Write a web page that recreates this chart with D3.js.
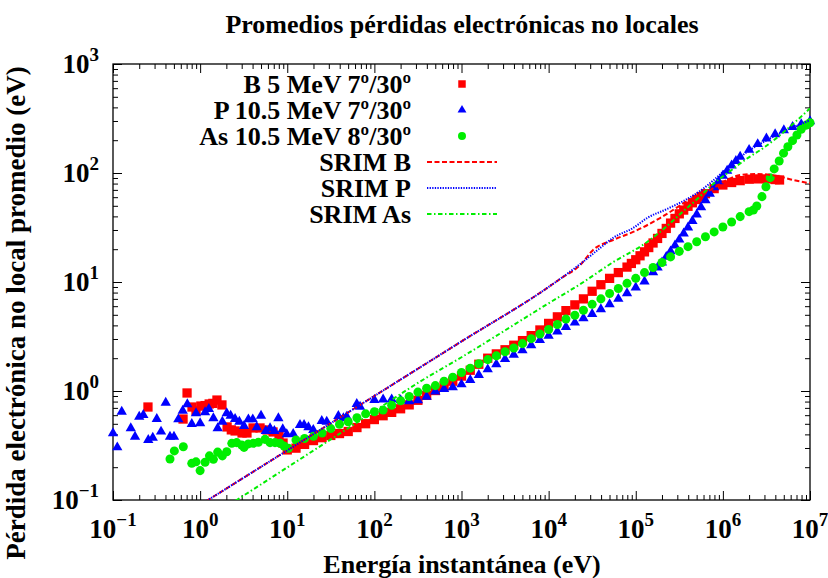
<!DOCTYPE html>
<html>
<head>
<meta charset="utf-8">
<script src="https://cdn.jsdelivr.net/npm/d3@7"></script>
<style>
  body { margin: 0; background: #fff; }
  text { font-family: "Liberation Serif", "Times New Roman", serif; font-weight: bold; fill: #000; }
</style>
</head>
<body>
<div id="chart"></div>
<script>
// Decades shown on each axis (labels are 10^n)
var xDecades = [-1, 0, 1, 2, 3, 4, 5, 6, 7]
var yDecades = [-1, 0, 1, 2, 3]

var seriesNames = ["B 5 MeV 7º/30º", "P 10.5 MeV 7º/30º", "As 10.5 MeV 8º/30º", "SRIM B", "SRIM P", "SRIM As"]

// [energy eV, mean non-local loss eV]
var boronPts = [
  [0.252, 0.713], [0.637, 0.553], [0.708, 0.959], [0.807, 0.713], [0.897, 0.657], [1.02, 0.728], [1.14, 0.735],
  [1.27, 0.760], [1.40, 0.77], [1.56, 0.826], [1.78, 0.745], [2.04, 0.468], [2.28, 0.44], [2.52, 0.430], [3.03, 0.412],
  [3.45, 0.412], [4.05, 0.458], [4.87, 0.458], [5.86, 0.439], [6.87, 0.421], [8.05, 0.386], [8.95, 0.333],
  [10, 0.288], [12.6, 0.299], [15.8, 0.324], [20, 0.351], [25.1, 0.373], [31.6, 0.391], [39.8, 0.407], [50.1, 0.425], [63.1, 0.462], [79.4, 0.501],
  [100, 0.547], [126, 0.593], [158, 0.637], [200, 0.687], [251, 0.746], [316, 0.822], [398, 0.912], [501, 1.01], [631, 1.11], [794, 1.23],
  [1000, 1.37], [1260, 1.55], [1580, 1.76], [2000, 2.00], [2510, 2.19], [3160, 2.39], [3980, 2.63], [5010, 2.90], [6310, 3.22], [7940, 3.63],
  [1e4, 4.17], [1.26e4, 4.79], [1.58e4, 5.46], [2e4, 6.17], [2.51e4, 7.00], [3.16e4, 8.22], [3.98e4, 9.44], [5.01e4, 10.8], [6.31e4, 12.2], [7.94e4, 13.7],
  [8.91e4, 14.8], [1e5, 16.0], [1.12e5, 17.4], [1.26e5, 18.9], [1.41e5, 20.7], [1.58e5, 22.8], [1.78e5, 25.1], [2e5, 27.9], [2.24e5, 31.0],
  [2.51e5, 34.7], [2.82e5, 38.3], [3.16e5, 42.2], [3.55e5, 45.7], [3.98e5, 49.5], [4.47e5, 53.3], [5.01e5, 57.1], [5.62e5, 60.8], [6.31e5, 64.6], [7.94e5, 71.9],
  [1e6, 77.6], [1.26e6, 81.8], [1.58e6, 85.1], [2e6, 87.7], [2.51e6, 88.3], [3.16e6, 88.3], [3.98e6, 87.1], [4.47e6, 86.3]
]

var phosPts = [
  [0.100, 0.410], [0.112, 0.304], [0.126, 0.646], [0.160, 0.455], [0.179, 0.381], [0.200, 0.581], [0.223, 0.602], [0.254, 0.355],
  [0.286, 0.373], [0.318, 0.553], [0.356, 0.424], [0.403, 0.781], [0.451, 0.381], [0.501, 0.381], [0.562, 0.549], [0.631, 0.659],
  [0.713, 0.755], [0.802, 0.498], [0.897, 0.624], [1.00, 0.506], [1.14, 0.638], [1.26, 0.684], [1.42, 0.562], [1.59, 0.455],
  [1.80, 0.522], [2.02, 0.624], [2.24, 0.593], [2.52, 0.553], [2.82, 0.522], [3.19, 0.478], [3.58, 0.549], [4.02, 0.549],
  [4.47, 0.465], [5.00, 0.593], [5.66, 0.430], [6.35, 0.455], [7.11, 0.430], [7.91, 0.562], [8.88, 0.446], [9.87, 0.401],
  [11.7, 0.404], [14.0, 0.488], [15.6, 0.488], [17.5, 0.465], [19.9, 0.439], [24.9, 0.531], [28.4, 0.522], [38.6, 0.590],
  [44.1, 0.562], [48.2, 0.581], [62.8, 0.760], [68.5, 0.718],
  [100, 0.826], [126, 0.836], [158, 0.838], [200, 0.822], [251, 0.805], [316, 0.822], [398, 0.887], [501, 0.989], [631, 1.04], [794, 1.08],
  [1000, 1.15], [1260, 1.26], [1580, 1.40], [2000, 1.58], [2510, 1.76], [3160, 1.96], [3980, 2.15], [5010, 2.36], [6310, 2.63], [7940, 2.93],
  [1e4, 3.21], [1.26e4, 3.52], [1.58e4, 3.86], [2e4, 4.24], [2.51e4, 4.65], [3.16e4, 5.09], [3.98e4, 5.62], [5.01e4, 6.24], [6.31e4, 7.00], [7.94e4, 7.89],
  [1e5, 8.91], [1.26e5, 10.1], [1.58e5, 12.3], [1.78e5, 13.6], [2e5, 15.1], [2.24e5, 17.0], [2.51e5, 19.1], [2.82e5, 21.6], [3.16e5, 24.5],
  [3.55e5, 27.9], [3.98e5, 31.6], [4.47e5, 36.3], [5.01e5, 41.7], [5.62e5, 48.4], [6.31e5, 56.2], [7.08e5, 64.6], [7.94e5, 74.1], [8.91e5, 83.8],
  [1e6, 94.4], [1.12e6, 105], [1.26e6, 117], [1.41e6, 129], [1.58e6, 141], [2e6, 163], [2.51e6, 184], [3.16e6, 207], [3.98e6, 227],
  [5.01e6, 247], [6.31e6, 264], [7.94e6, 280], [1e7, 298]
]

var arsenicPts = [
  [0.451, 0.238], [0.506, 0.282], [0.641, 0.308], [0.802, 0.217], [0.897, 0.224], [1.00, 0.186], [1.14, 0.222], [1.28, 0.254],
  [1.42, 0.236], [1.59, 0.275], [1.80, 0.254], [2.02, 0.277], [2.31, 0.331], [2.63, 0.336], [3.00, 0.320], [3.19, 0.304],
  [3.58, 0.327], [4.08, 0.331], [4.66, 0.338], [5.56, 0.360], [6.35, 0.336], [7.24, 0.336], [8.27, 0.331], [9.19, 0.313], [10.3, 0.298],
  [12.6, 0.355], [15.8, 0.367], [20, 0.385], [25.1, 0.412], [31.6, 0.452], [39.8, 0.495], [50.1, 0.522], [63.1, 0.569], [79.4, 0.617],
  [100, 0.646], [126, 0.668], [158, 0.741], [200, 0.813], [251, 0.891], [316, 0.977], [398, 1.06], [501, 1.12], [631, 1.23], [794, 1.34],
  [1000, 1.48], [1260, 1.62], [1580, 1.78], [2000, 1.94], [2510, 2.10], [3160, 2.29], [3980, 2.48], [5010, 2.72], [6310, 3.02], [7940, 3.33],
  [1e4, 3.67], [1.26e4, 4.07], [1.58e4, 4.57], [2e4, 4.95], [2.51e4, 5.50], [3.16e4, 6.24], [3.98e4, 7.00], [5.01e4, 7.85], [6.31e4, 8.71], [7.94e4, 9.72],
  [1e5, 10.8], [1.26e5, 12.2], [1.58e5, 13.6], [2e5, 15.1], [2.51e5, 17.0], [3.16e5, 19.1], [3.98e5, 21.1], [5.01e5, 23.4], [6.31e5, 26.0], [7.94e5, 28.8],
  [1e6, 32.0], [1.26e6, 35.5], [1.58e6, 39.8], [2e6, 44.2], [2.24e6, 45.8],
  [2.45e6, 49.8], [2.81e6, 60.7], [3.12e6, 74.8], [3.49e6, 90.6], [3.88e6, 109], [4.43e6, 129], [4.97e6, 152],
  [5.57e6, 174], [6.30e6, 198], [7.08e6, 223], [7.93e6, 252], [9.06e6, 275], [1e7, 289]
]

var srimB = [
  [1, 0.09], [10, 0.285], [100, 0.90], [1000, 2.85], [1e4, 9.0], [1.36e4, 10.7], [2.3e4, 14.3], [3.24e4, 19.7], [5.5e4, 24.3],
  [9.33e4, 28.8], [1.9e5, 38.6], [2.69e5, 45.8], [3.89e5, 55.3], [5.48e5, 62.8], [7.14e5, 69.8], [1.12e6, 86.3], [1.58e6, 95.9],
  [2.48e6, 97.9], [4.2e6, 93.8], [6.41e6, 86.3], [1e7, 80.5]
]

var srimP = [
  [1, 0.09], [10, 0.285], [100, 0.90], [1000, 2.85], [1e4, 9.0], [2.3e4, 14.6], [3.9e4, 20.5], [5.5e4, 25.4], [9.33e4, 31.3],
  [1.35e5, 38.6], [2.29e5, 46.8], [3.89e5, 57.7], [5.48e5, 68.4], [8.61e5, 91.8], [1.31e6, 124], [2.06e6, 163], [3.23e6, 201],
  [5.47e6, 248], [1e7, 305]
]

var srimAs = [
  [2, 0.087], [2.63, 0.1], [10, 0.199], [100, 0.652], [335, 1.22], [1000, 2.04], [1e4, 6.38], [2.3e4, 9.55], [5.5e4, 15.2],
  [1.35e5, 23.3], [2.29e5, 32.7], [3.24e5, 42.1], [5.07e5, 57.7], [7.74e5, 79.3], [1.21e6, 104], [1.85e6, 134], [2.9e6, 169],
  [4.55e6, 223], [6.76e6, 294], [9.53e6, 378], [1e7, 392]
]

;(function() {
  'use strict'

  var width = 828, height = 578
  var plot = {left: 113, right: 810, top: 64, bottom: 500}
  var red = "#ff0000", blue = "#0000ff", green = "#00ee00"

  var svg = d3.select("#chart").append("svg")
    .attr("width", width)
    .attr("height", height)
    .style("background", "#fff")

  var x = d3.scaleLog().domain([0.1, 1e7]).range([plot.left, plot.right])
  var y = d3.scaleLog().domain([0.1, 1000]).range([plot.bottom, plot.top])

  var xMajor = xDecades.map(function(p) { return Math.pow(10, p) })
  var yMajor = yDecades.map(function(p) { return Math.pow(10, p) })
  function minors(major) {
    var out = []
    major.slice(0, -1).forEach(function(d) {
      for (var k = 2; k < 10; k++) out.push(d * k)
    })
    return out
  }

  // ticks on all four sides, pointing inward
  function tickRow(axisFn, scale, values, size, tx, ty) {
    svg.append("g")
      .attr("transform", "translate(" + tx + "," + ty + ")")
      .call(axisFn(scale).tickValues(values).tickSize(-size).tickFormat(""))
      .call(function(g) { g.select(".domain").remove() })
      .selectAll("line").attr("stroke", "#000").attr("stroke-width", 1)
  }
  tickRow(d3.axisBottom, x, xMajor, 9, 0, plot.bottom)
  tickRow(d3.axisBottom, x, minors(xMajor), 5, 0, plot.bottom)
  tickRow(d3.axisTop, x, xMajor, 9, 0, plot.top)
  tickRow(d3.axisTop, x, minors(xMajor), 5, 0, plot.top)
  tickRow(d3.axisLeft, y, yMajor, 9, plot.left, 0)
  tickRow(d3.axisLeft, y, minors(yMajor), 5, plot.left, 0)
  tickRow(d3.axisRight, y, yMajor, 9, plot.right, 0)
  tickRow(d3.axisRight, y, minors(yMajor), 5, plot.right, 0)

  // frame
  svg.append("rect")
    .attr("x", plot.left).attr("y", plot.top)
    .attr("width", plot.right - plot.left).attr("height", plot.bottom - plot.top)
    .attr("fill", "none").attr("stroke", "#000").attr("stroke-width", 1.3)

  // tick labels 10^n
  function expText(p) { return p < 0 ? "\u2212" + (-p) : String(p) }
  xDecades.forEach(function(p) {
    var t = svg.append("text")
      .attr("x", x(Math.pow(10, p))).attr("y", 538)
      .attr("text-anchor", "middle").style("font-size", "27px")
    t.append("tspan").text("10")
    t.append("tspan").attr("dy", -12).style("font-size", "19px").text(expText(p))
  })
  yDecades.forEach(function(p) {
    var t = svg.append("text")
      .attr("x", 99).attr("y", y(Math.pow(10, p)) + 9)
      .attr("text-anchor", "end").style("font-size", "27px")
    t.append("tspan").text("10")
    t.append("tspan").attr("dy", -12).style("font-size", "19px").text(expText(p))
  })

  // titles
  svg.append("text")
    .attr("x", 462).attr("y", 33).attr("text-anchor", "middle")
    .style("font-size", "26px")
    .text("Promedios pérdidas electrónicas no locales")
  svg.append("text")
    .attr("x", 462).attr("y", 573).attr("text-anchor", "middle")
    .style("font-size", "26px")
    .text("Energía instantánea (eV)")
  svg.append("text")
    .attr("transform", "translate(25,313) rotate(-90)")
    .attr("text-anchor", "middle")
    .style("font-size", "27px")
    .text("Pérdida electrónica no local promedio (eV)")

  svg.append("clipPath").attr("id", "clip")
    .append("rect")
    .attr("x", plot.left).attr("y", plot.top)
    .attr("width", plot.right - plot.left).attr("height", plot.bottom - plot.top)

  var square = d3.symbol(d3.symbolSquare).size(86)
  var triangle = d3.symbol(d3.symbolTriangle).size(46)
  var circle = d3.symbol(d3.symbolCircle).size(64)

  function points(data, sym, color) {
    svg.append("g").selectAll("path")
      .data(data)
      .enter().append("path")
      .attr("d", sym)
      .attr("transform", function(d) { return "translate(" + x(d[0]) + "," + y(d[1]) + ")" })
      .attr("fill", color)
  }
  points(boronPts, square, red)
  points(phosPts, triangle, blue)
  points(arsenicPts, circle, green)

  var line = d3.line()
    .x(function(d) { return x(d[0]) })
    .y(function(d) { return y(d[1]) })
    .curve(d3.curveMonotoneX)

  var lineStyles = [
    {data: srimB, color: red, dash: "5,2.5"},
    {data: srimP, color: blue, dash: "1.3,1.3"},
    {data: srimAs, color: green, dash: "4.5,2.5,1.5,2.5"}
  ]
  lineStyles.forEach(function(s) {
    svg.append("path")
      .datum(s.data)
      .attr("clip-path", "url(#clip)")
      .attr("d", line)
      .attr("fill", "none")
      .attr("stroke", s.color)
      .attr("stroke-width", 2)
      .attr("stroke-dasharray", s.dash)
  })

  // legend
  var legY = 84, legStep = 26
  var legSyms = [d3.symbol(d3.symbolSquare).size(56), d3.symbol(d3.symbolTriangle).size(34), d3.symbol(d3.symbolCircle).size(50)]
  var legColors = [red, blue, green, red, blue, green]
  seriesNames.forEach(function(name, i) {
    var cy = legY + i * legStep
    svg.append("text")
      .attr("x", 411).attr("y", cy + 9)
      .attr("text-anchor", "end").style("font-size", "26px")
      .text(name)
    if (i < 3) {
      svg.append("path")
        .attr("d", legSyms[i])
        .attr("transform", "translate(462," + cy + ")")
        .attr("fill", legColors[i])
    } else {
      svg.append("line")
        .attr("x1", 427).attr("x2", 497).attr("y1", cy).attr("y2", cy)
        .attr("stroke", legColors[i]).attr("stroke-width", 2)
        .attr("stroke-dasharray", lineStyles[i - 3].dash)
    }
  })
})()
</script>
</body>
</html>
